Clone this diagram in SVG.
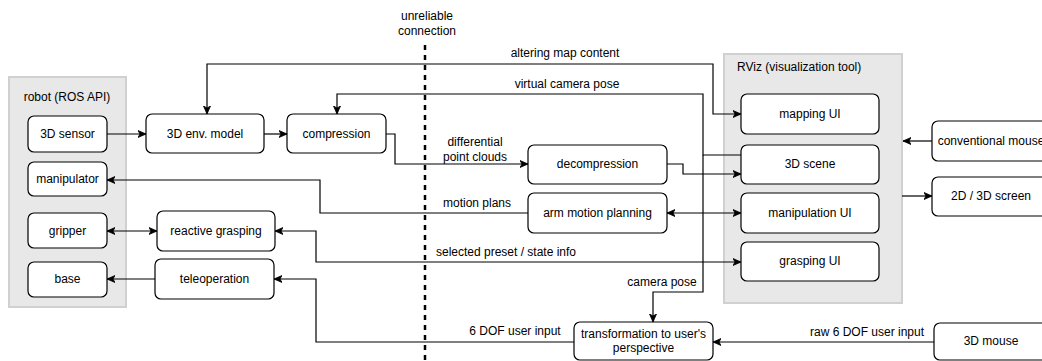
<svg xmlns="http://www.w3.org/2000/svg" width="1042" height="361" viewBox="0 0 1042 361">
<style>
text{font-family:"Liberation Sans",Arial,sans-serif;font-size:12px;fill:#000}
.c{text-anchor:middle}
.n rect{fill:#fff;stroke:#000;stroke-width:1.2}
.g{fill:#e8e8e8;stroke:#d0d0d0;stroke-width:2}
.e path{fill:none;stroke:#000;stroke-width:1.2}
</style>
<defs>
<marker id="a" markerUnits="userSpaceOnUse" markerWidth="10" markerHeight="10" refX="8" refY="4" orient="auto-start-reverse" viewBox="0 0 10 8">
<path d="M0,0.5 L8,4 L0,7.5 L2,4 Z" fill="#000" stroke="#000" stroke-width="0.8"/>
</marker>
</defs>
<rect width="1042" height="361" fill="#fff"/>
<g id="robot-group"><rect class="g" x="9" y="77" width="117" height="230"/><text class="c" x="67" y="101">robot (ROS API)</text></g>
<g id="rviz-group"><rect class="g" x="724" y="54" width="178" height="249"/><text x="737" y="71">RViz (visualization tool)</text></g>
<line x1="425" y1="45" x2="425" y2="361" stroke="#000" stroke-width="2.5" stroke-dasharray="5,5"/>
<text class="c" x="427" y="20">unreliable</text>
<text class="c" x="427" y="35">connection</text>
<g class="e" id="connectors">
<path d="M107,134 H146" marker-end="url(#a)"/>
<path d="M264,134 H287" marker-end="url(#a)"/>
<path d="M386,134 H395 V164 H528" marker-end="url(#a)"/>
<path d="M667,164 H683 V174 H741" marker-end="url(#a)"/>
<path d="M207,114 V64 H713 V114 H741" marker-start="url(#a)" marker-end="url(#a)"/>
<path d="M741,155 H703 V94 H337 V114" marker-end="url(#a)"/>
<path d="M703,155 V292 H653 V322" marker-end="url(#a)"/>
<path d="M528,213 H320 V180 H107" marker-end="url(#a)"/>
<path d="M667,213 H741" marker-start="url(#a)" marker-end="url(#a)"/>
<path d="M107,231 H157" marker-start="url(#a)" marker-end="url(#a)"/>
<path d="M155,279 H107" marker-end="url(#a)"/>
<path d="M275,231 H316 V262 H741" marker-start="url(#a)" marker-end="url(#a)"/>
<path d="M574,342 H316 V279 H274" marker-end="url(#a)"/>
<path d="M934,342 H713" marker-end="url(#a)"/>
<path d="M932,141 H903" marker-end="url(#a)"/>
<path d="M902,196 H932" marker-end="url(#a)"/>
</g>
<g id="edge-labels">
<text class="c" x="565" y="57">altering map content</text>
<text class="c" x="567" y="88">virtual camera pose</text>
<text class="c" x="475" y="146">differential</text>
<text class="c" x="475" y="161">point clouds</text>
<text class="c" x="477" y="207">motion plans</text>
<text class="c" x="506" y="256">selected preset / state info</text>
<text class="c" x="662" y="286">camera pose</text>
<text class="c" x="515" y="335">6 DOF user input</text>
<text class="c" x="867" y="336">raw 6 DOF user input</text>
</g>
<g class="n" id="n-3dsensor"><rect x="28" y="116" width="79" height="36" rx="6"/><text class="c" x="67.5" y="138">3D sensor</text></g>
<g class="n" id="n-manipulator"><rect x="28" y="162" width="79" height="34" rx="6"/><text class="c" x="67.5" y="183">manipulator</text></g>
<g class="n" id="n-gripper"><rect x="28" y="213" width="79" height="35" rx="6"/><text class="c" x="67.5" y="235">gripper</text></g>
<g class="n" id="n-base"><rect x="28" y="262" width="79" height="35" rx="6"/><text class="c" x="67.5" y="283">base</text></g>
<g class="n" id="n-envmodel"><rect x="146" y="114" width="118" height="39" rx="6"/><text class="c" x="205" y="138">3D env. model</text></g>
<g class="n" id="n-compression"><rect x="287" y="114" width="99" height="39" rx="6"/><text class="c" x="336.5" y="138">compression</text></g>
<g class="n" id="n-reactive"><rect x="157" y="211" width="118" height="40" rx="6"/><text class="c" x="216" y="235">reactive grasping</text></g>
<g class="n" id="n-teleop"><rect x="155" y="259" width="119" height="40" rx="6"/><text class="c" x="214.5" y="283">teleoperation</text></g>
<g class="n" id="n-decompression"><rect x="528" y="145" width="139" height="39" rx="6"/><text class="c" x="597.5" y="168">decompression</text></g>
<g class="n" id="n-armplanning"><rect x="528" y="193" width="139" height="40" rx="6"/><text class="c" x="597.5" y="217">arm motion planning</text></g>
<g class="n" id="n-mappingui"><rect x="741" y="94" width="138" height="40" rx="6"/><text class="c" x="810" y="118">mapping UI</text></g>
<g class="n" id="n-3dscene"><rect x="741" y="145" width="138" height="39" rx="6"/><text class="c" x="810" y="168">3D scene</text></g>
<g class="n" id="n-manipui"><rect x="741" y="193" width="138" height="40" rx="6"/><text class="c" x="810" y="217">manipulation UI</text></g>
<g class="n" id="n-graspui"><rect x="741" y="242" width="138" height="39" rx="6"/><text class="c" x="810" y="265">grasping UI</text></g>
<g class="n" id="n-transform"><rect x="574" y="322" width="139" height="38" rx="6"/><text class="c" x="643.5" y="338">transformation to user's</text><text class="c" x="643.5" y="352">perspective</text></g>
<g class="n" id="n-convmouse"><rect x="932" y="121" width="118" height="40" rx="6"/><text class="c" x="991" y="145">conventional mouse</text></g>
<g class="n" id="n-screen"><rect x="932" y="177" width="118" height="39" rx="6"/><text class="c" x="991" y="200">2D / 3D screen</text></g>
<g class="n" id="n-3dmouse"><rect x="934" y="323" width="118" height="37" rx="6"/><text class="c" x="991" y="345">3D mouse</text></g>
</svg>
